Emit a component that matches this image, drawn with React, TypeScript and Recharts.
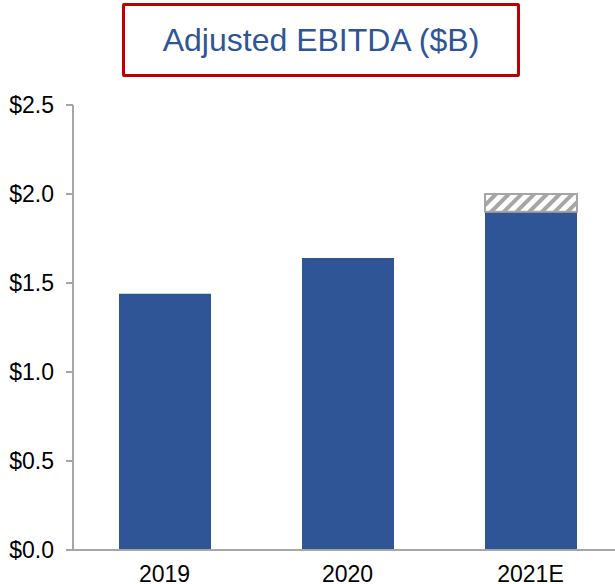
import { Bar, BarChart, XAxis, YAxis } from 'recharts'

const years = ['2019', '2020', '2021E']
const ebitda = [1.44, 1.64, 1.9]
const upside = [0, 0, 0.1]
const yTicks = [0, 0.5, 1.0, 1.5, 2.0, 2.5]
const boundaryTicks = [0, 1, 2, 3]

const BLUE = '#2F5597'
const AXIS = '#A6A6A6'
const FONT = 'Arial, "Liberation Sans", sans-serif'

const data = years.map((year, i) => ({ year, ebitda: ebitda[i], upside: upside[i] }))

export default function App() {
  return (
    <div
      style={{
        position: 'absolute',
        left: 0,
        top: 0,
        width: 615,
        height: 584,
        overflow: 'hidden',
        background: '#fff',
        fontFamily: FONT,
      }}
    >
      {/* hatch for the guidance range on top of 2021E */}
      <svg width={0} height={0} style={{ position: 'absolute' }}>
        <defs>
          <pattern
            id="hatch"
            patternUnits="userSpaceOnUse"
            width={9}
            height={9}
            patternTransform="rotate(45)"
          >
            <rect width={9} height={9} fill="#fff" />
            <rect width={4} height={9} fill={AXIS} />
          </pattern>
        </defs>
      </svg>

      <div
        style={{
          position: 'absolute',
          left: 122,
          top: 3,
          width: 392,
          height: 68,
          border: '3px solid #C00000',
          borderRadius: 2,
          display: 'flex',
          alignItems: 'center',
          justifyContent: 'center',
          color: BLUE,
          fontSize: 32,
          lineHeight: 1,
        }}
      >
        Adjusted EBITDA ($B)
      </div>

      <BarChart
        width={622}
        height={590}
        data={data}
        margin={{ top: 105, right: 0, bottom: 0, left: 0 }}
        barSize={92}
      >
        {/* category boundaries, only for the tick marks */}
        <XAxis
          xAxisId="grid"
          type="number"
          domain={[0, 3]}
          ticks={boundaryTicks}
          allowDataOverflow
          height={0}
          tick={false}
          tickSize={6}
          axisLine={false}
          tickLine={{ stroke: AXIS, strokeWidth: 2 }}
        />
        <XAxis
          xAxisId="cat"
          dataKey="year"
          type="category"
          height={40}
          axisLine={{ stroke: AXIS, strokeWidth: 2 }}
          tickLine={false}
          tickSize={8}
          tickMargin={8}
          tick={{ fill: '#000', fontSize: 23, fontFamily: FONT }}
          interval={0}
        />
        <YAxis
          domain={[0, 2.5]}
          ticks={yTicks}
          width={73}
          tickSize={7}
          tickMargin={12}
          tickFormatter={(v: number) => `$${v.toFixed(1)}`}
          axisLine={{ stroke: AXIS, strokeWidth: 2 }}
          tickLine={{ stroke: AXIS, strokeWidth: 2 }}
          tick={{ fill: '#000', fontSize: 23, fontFamily: FONT }}
        />
        <Bar xAxisId="cat" dataKey="ebitda" stackId="a" fill={BLUE} isAnimationActive={false} />
        <Bar
          xAxisId="cat"
          dataKey="upside"
          stackId="a"
          fill="url(#hatch)"
          stroke={AXIS}
          strokeWidth={2}
          isAnimationActive={false}
        />
      </BarChart>
    </div>
  )
}
